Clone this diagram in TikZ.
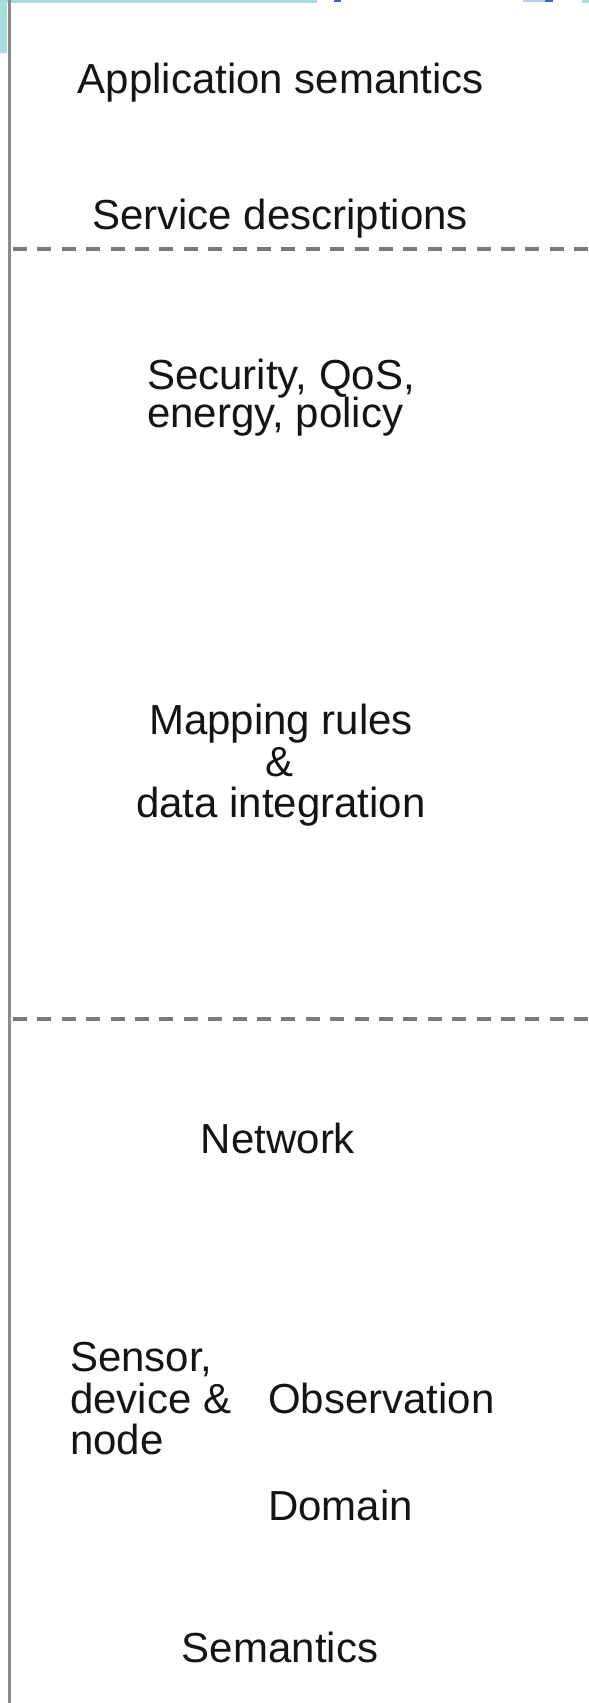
\documentclass[tikz,border=0pt]{standalone}
\usepackage{fontspec}
\setmainfont{Liberation Sans}
\definecolor{headteal}{RGB}{168,220,218}
\definecolor{headblue}{RGB}{70,100,200}
\definecolor{headblueLight}{RGB}{190,200,235}
\begin{document}
\begin{tikzpicture}[x=1pt,y=-1pt,
  lbl/.style={inner sep=0pt,anchor=base,text=black!92,font=\fontsize{42}{41}\selectfont},
  lblw/.style={lbl,anchor=base west},
  sep/.style={draw=black!52,line width=3.4pt,dash pattern=on 14pt off 10.4pt},
  axis/.style={draw=black!45,line width=3pt}]
\useasboundingbox (0,0) rectangle (589,1703);
\fill[white] (0,0) rectangle (589,1703);
% header fragments at the top edge
\fill[headteal] (0,0) rectangle (317,2.5);
\fill[headteal] (582,0) rectangle (589,2.5);
\fill[headteal] (0,0) rectangle (6.5,53);
\fill[headblue] (334,0) rectangle (341,2.2);
\fill[headblueLight] (523,0) rectangle (545,1.5);
\fill[headblue] (545,0) rectangle (553,2.2);
% vertical axis
\coordinate (top) at (9.5,0);
\coordinate (bot) at (9.5,1703);
\draw[axis] (top) -- (bot);
% layer separators
\coordinate (s1a) at (13,249);
\coordinate (s1b) at (589,249);
\coordinate (s2a) at (13,1019);
\coordinate (s2b) at (589,1019);
\draw[sep] (s1a) -- (s1b);
\draw[sep] (s2a) -- (s2b);
% labels
\node[lbl] (app) at (281,93) {Application semantics};
\node[lbl] (svc) at (280,229) {Service descriptions};
\node[lblw] (sec1) at (147,389) {Security, QoS,};
\node[lblw] (sec2) at (147,427) {energy, policy};
\node[lbl] (map1) at (281,734) {Mapping rules};
\node[lbl] (map2) at (280,776) {\&};
\node[lbl] (map3) at (281,817) {data integration};
\node[lbl] (net) at (278,1153) {Network};
\node[lblw] (sen1) at (70,1371) {Sensor,};
\node[lblw] (sen2) at (70,1413) {device \&};
\node[lblw] (sen3) at (70,1454) {node};
\node[lblw] (obs) at (268,1413) {Observation};
\node[lblw] (dom) at (268,1520) {Domain};
\node[lbl] (sem) at (280,1662) {Semantics};
\end{tikzpicture}
\end{document}
